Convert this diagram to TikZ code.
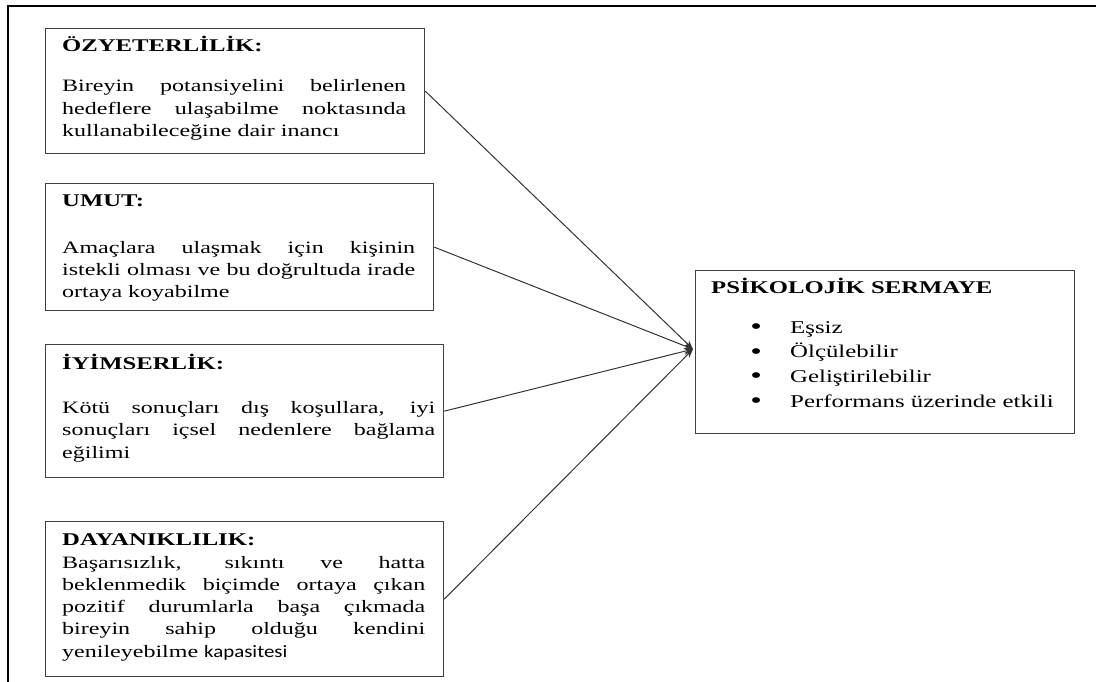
\documentclass[tikz,border=0pt]{standalone}
\usepackage{fontspec}
\setmainfont{Liberation Serif}[FakeStretch=1.38]
\newfontfamily\capfont{Carlito}[FakeStretch=1.2]
\usetikzlibrary{arrows.meta,calc}
\newcommand{\itemdot}{\makebox[39pt][l]{\bfseries\fontsize{21}{21}\selectfont\raisebox{-0.5pt}{•}}}
\begin{document}
\begin{tikzpicture}[x=1pt,y=-1pt,
  panel/.style={draw=black!75, line width=1.3pt, anchor=north west, inner sep=0pt},
  title/.style={anchor=base west, inner sep=0pt, font=\bfseries\fontsize{17.9}{22}\selectfont},
  body/.style={anchor=base west, inner sep=0pt, align=left, font=\fontsize{17.4}{22.2}\selectfont},
  items/.style={anchor=base west, inner sep=0pt, align=left, font=\fontsize{18}{24.6}\selectfont},
  link/.style={draw=black!80, line width=1pt, -{Stealth[length=9pt,width=7pt]}}]

\useasboundingbox (0,0) rectangle (1096,682);

% outer frame (top and left edges)
\draw[line width=2pt] (8,682) -- (8,6.5) -- (1096,6.5);

% left column of panels; each text block is anchored at the baseline of its last line
\node[panel, minimum width=379pt, minimum height=125pt] (oz) at (45,28) {};
\node[title] (ozT) at ($(oz.north west)+(17,24)$) {ÖZYETERLİLİK:};
\node[body] (ozB) at ($(oz.north west)+(17,108.3)$) {%
  \makebox[344pt][s]{Bireyin  potansiyelini belirlenen}\\
  \makebox[344pt][s]{hedeflere ulaşabilme noktasında}\\
  kullanabileceğine dair inancı};

\node[panel, minimum width=388pt, minimum height=127pt] (um) at (45,183) {};
\node[title] (umT) at ($(um.north west)+(17,23.7)$) {UMUT:};
\node[body] (umB) at ($(um.north west)+(17,114.7)$) {%
  \makebox[353pt][s]{Amaçlara ulaşmak için kişinin}\\
  \makebox[353pt][s]{istekli olması ve bu doğrultuda irade}\\
  ortaya koyabilme};

\node[panel, minimum width=398pt, minimum height=133pt] (iy) at (45,344) {};
\node[title] (iyT) at ($(iy.north west)+(17,25)$) {İYİMSERLİK:};
\node[body] (iyB) at ($(iy.north west)+(17,114)$) {%
  \makebox[373pt][s]{Kötü sonuçları dış koşullara, iyi}\\
  \makebox[373pt][s]{sonuçları içsel nedenlere bağlama}\\
  eğilimi};

\node[panel, minimum width=398pt, minimum height=155pt] (da) at (45,521) {};
\node[title] (daT) at ($(da.north west)+(17,24)$) {DAYANIKLILIK:};
\node[body] (daB) at ($(da.north west)+(17,136)$) {%
  \makebox[363pt][s]{Başarısızlık, sıkıntı ve hatta}\\
  \makebox[363pt][s]{beklenmedik biçimde ortaya çıkan}\\
  \makebox[363pt][s]{pozitif durumlarla başa çıkmada}\\
  \makebox[363pt][s]{bireyin sahip olduğu kendini}\\
  yenileyebilme {\capfont kapasitesi}};

% result panel
\node[panel, minimum width=379pt, minimum height=163pt] (ps) at (695,270) {};
\node[title] (psT) at ($(ps.north west)+(16,23)$) {PSİKOLOJİK SERMAYE};
\node[items] (psL) at ($(ps.north west)+(56,137)$) {%
  \itemdot Eşsiz\\
  \itemdot Ölçülebilir\\
  \itemdot Geliştirilebilir\\
  \itemdot Performans üzerinde etkili};

% connectors meeting at the result panel
\coordinate (hub) at ($(ps.west)+(-2,-3)$);
\draw[link] (oz.east) -- (hub);
\draw[link] (um.east) -- (hub);
\draw[link] (iy.east) -- (hub);
\draw[link] (da.east) -- (hub);
\end{tikzpicture}
\end{document}
